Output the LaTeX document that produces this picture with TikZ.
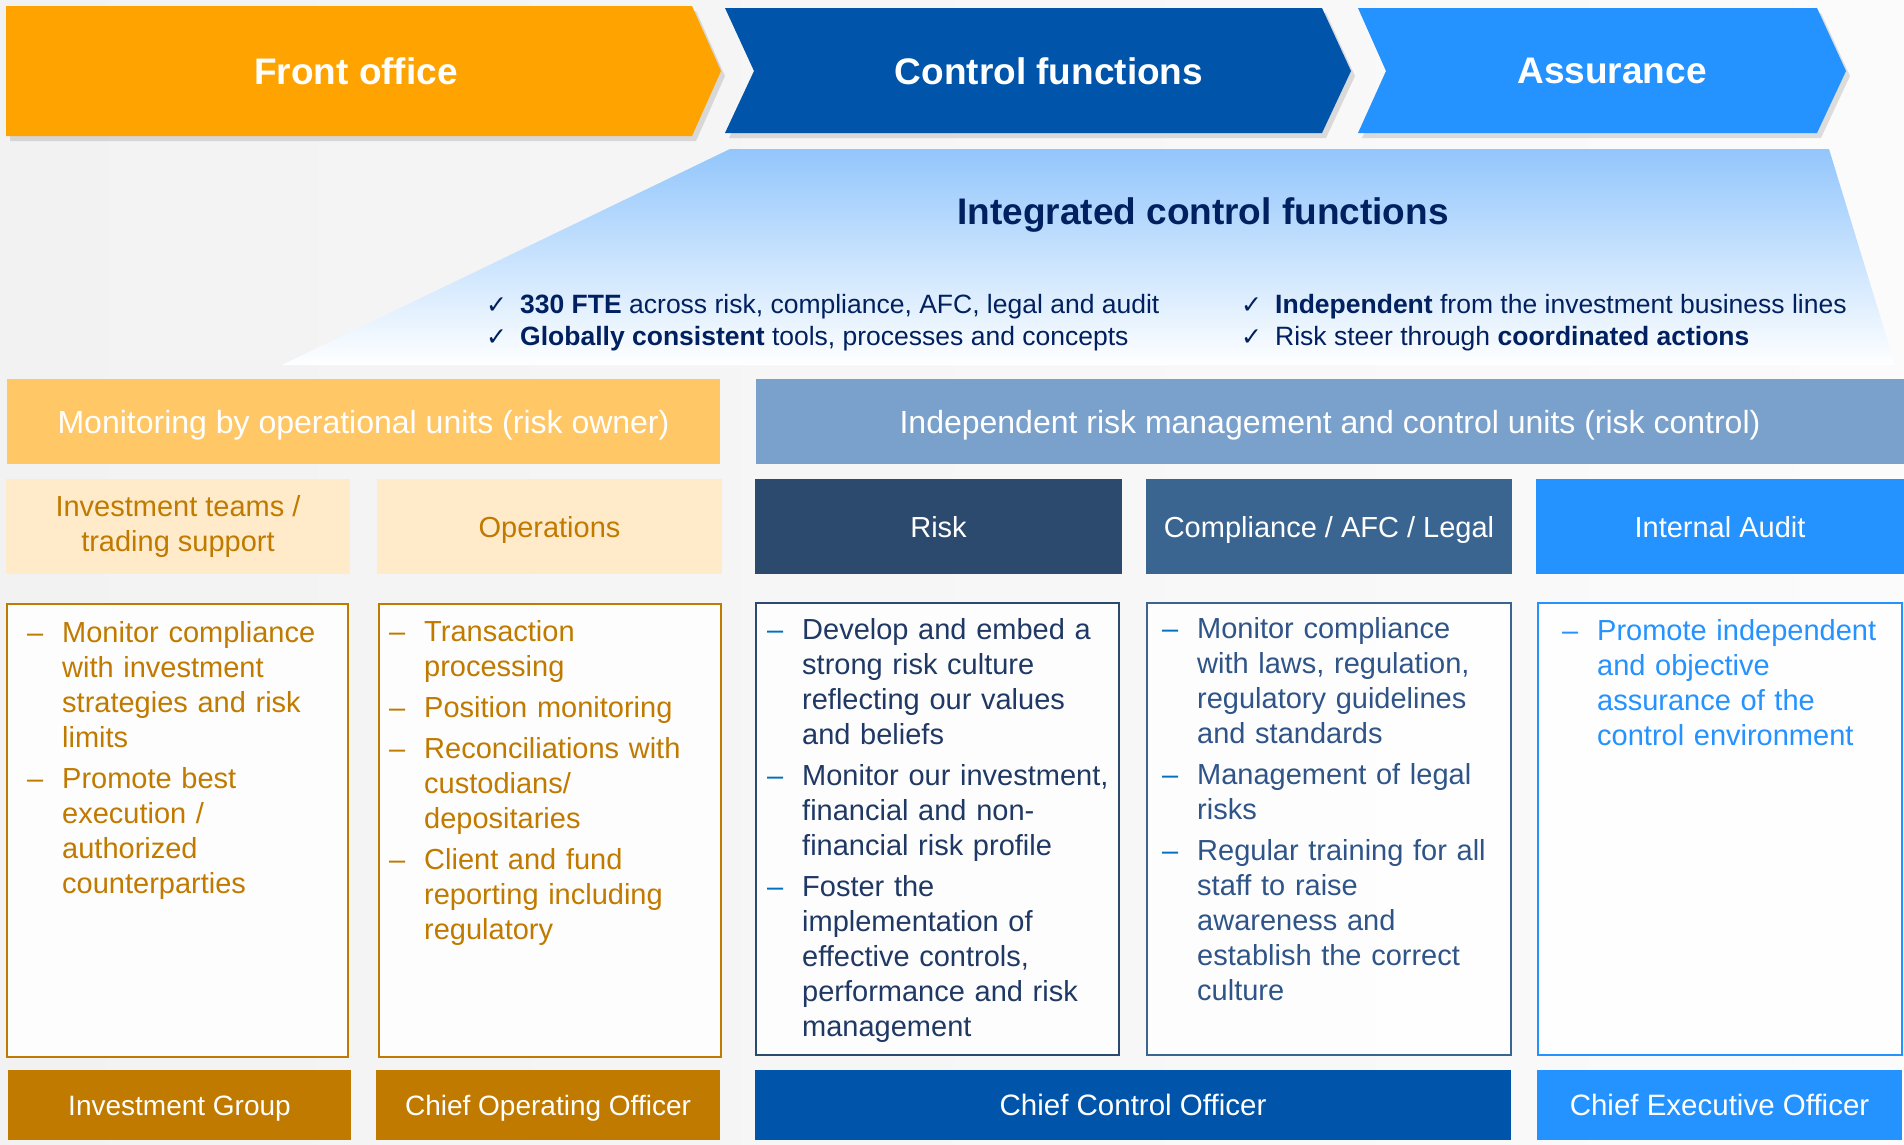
\documentclass[tikz,border=0pt]{standalone}
\usepackage{fontspec}
\setmainfont{Liberation Sans}
\newfontfamily\chkfont{DejaVu Sans}
\usetikzlibrary{shadows}
\newcommand{\itm}[2][.]{\noindent\llap{\makebox[35pt][l]{\textcolor{#1}{–}}}#2\par}
\newcommand{\chk}{\makebox[34pt][l]{\chkfont\fontsize{25}{30}\selectfont ✓}}

\begin{document}
\begin{tikzpicture}[
    x=1pt, y=-1pt,
    font=\fontsize{29}{35}\selectfont,
    chev/.style={drop shadow={shadow xshift=4pt, shadow yshift=-5pt, opacity=0.25}},
    chevtext/.style={text=white, font=\fontsize{37}{44}\selectfont\bfseries},
    cellbox/.style={rectangle, inner sep=0pt, text=white, align=center},
    band/.style={cellbox, text height=25pt, text depth=4pt},
    wide/.style={cellbox, text height=27pt, text depth=4pt, font=\fontsize{32}{38}\selectfont},
    frame/.style={rectangle, draw, line width=2.5pt, fill=white, fill opacity=0.85, inner sep=0pt},
    blist/.style={anchor=north west, inner sep=0pt, text width=380pt, align=left},
    check/.style={anchor=base west, inner sep=0pt, text=cNavy, font=\fontsize{26.5}{32}\selectfont},
    foot/.style={band, font=\fontsize{28}{34}\selectfont}
]
\definecolor{cFront}{RGB}{255,163,0}
\definecolor{cCtrl}{RGB}{0,85,170}
\definecolor{cAssur}{RGB}{36,146,255}
\definecolor{cTrap}{RGB}{146,198,252}
\definecolor{cTrapMid}{RGB}{204,228,253}
\definecolor{cNavy}{RGB}{0,32,96}
\definecolor{cMon}{RGB}{255,199,102}
\definecolor{cIrm}{RGB}{122,161,204}
\definecolor{cPeach}{RGB}{255,235,201}
\definecolor{cGold}{RGB}{192,122,0}
\definecolor{cRisk}{RGB}{44,74,110}
\definecolor{cComp}{RGB}{58,101,145}
\definecolor{cRiskTxt}{RGB}{31,56,100}
\definecolor{cCompTxt}{RGB}{47,84,135}
\definecolor{cDash}{RGB}{0,112,192}
\definecolor{cBgL}{RGB}{242,242,243}
\definecolor{cBgR}{RGB}{251,251,252}

\useasboundingbox (0,0) rectangle (1904,1144);
\shade[left color=cBgL, right color=cBgR] (0,0) rectangle (1904,1144);

\shade[top color=cTrap, middle color=cTrapMid, bottom color=white] (730,149) -- (1829,149) -- (1895,365) -- (282,365) -- cycle;

\path[chev, fill=cFront] (6,6) -- (692,6) -- (721,71) -- (692,136) -- (6,136) -- cycle;
\node[chevtext] (fo) at (356,71) {Front office};
\path[chev, fill=cCtrl] (725,8) -- (1322,8) -- (1351,71) -- (1322,133) -- (725,133) -- (754,71) -- cycle;
\node[chevtext] (cf) at (1049,71) {Control functions};
\path[chev, fill=cAssur] (1358,8) -- (1817,8) -- (1846,71) -- (1817,133) -- (1358,133) -- (1386,71) -- cycle;
\node[chevtext] (asr) at (1612,71) {Assurance};

\node[anchor=base, text=cNavy, font=\fontsize{37}{44}\selectfont\bfseries] (ict) at (1203,224) {Integrated control functions};
\node[check] (fte) at (486,313) {\chk\textbf{330 FTE} across risk, compliance, AFC, legal and audit};
\node[check] (glob) at (486,345) {\chk\textbf{Globally consistent} tools, processes and concepts};
\node[check] (indep) at (1241,313) {\chk\textbf{Independent} from the investment business lines};
\node[check] (steer) at (1241,345) {\chk Risk steer through \textbf{coordinated actions}};

\node[wide, fill=cMon, minimum width=713pt, minimum height=85pt] (mon) at (363.5,421.5) {Monitoring by operational units (risk owner)};
\node[wide, fill=cIrm, minimum width=1148pt, minimum height=85pt] (irm) at (1330,421.5) {Independent risk management and control units (risk control)};

\node[cellbox, fill=cPeach, text=cGold, minimum width=344pt, minimum height=95pt] (hinv) at (178,526.5) {Investment teams /\\ trading support};
\node[band, fill=cPeach, text=cGold, minimum width=345pt, minimum height=95pt] (hops) at (549.5,526.5) {Operations};
\node[band, fill=cRisk, minimum width=367pt, minimum height=95pt] (hrisk) at (938.5,526.5) {Risk};
\node[band, fill=cComp, minimum width=366pt, minimum height=95pt] (hcomp) at (1329,526.5) {Compliance / AFC / Legal};
\node[band, fill=cAssur, minimum width=368pt, minimum height=95pt] (haud) at (1720,526.5) {Internal Audit};

\node[frame, draw=cGold, minimum width=341pt, minimum height=453pt] (binv) at (177.5,830.5) {};
\node[frame, draw=cGold, minimum width=342pt, minimum height=453pt] (bops) at (550,830.5) {};
\node[frame, draw=cRisk, minimum width=363pt, minimum height=452pt] (brisk) at (937.5,829) {};
\node[frame, draw=cComp, minimum width=364pt, minimum height=452pt] (bcomp) at (1329,829) {};
\node[frame, draw=cAssur, minimum width=364pt, minimum height=452pt] (baud) at (1720,829) {};

\node[blist, text=cGold] (linv) at (27,621) {\leftskip=35pt \parskip=6pt
  \itm{Monitor compliance\\ with investment\\ strategies and risk\\ limits}
  \itm{Promote best\\ execution /\\ authorized\\ counterparties}};
\node[blist, text=cGold] (lops) at (389,620) {\leftskip=35pt \parskip=6pt
  \itm{Transaction\\ processing}
  \itm{Position monitoring}
  \itm{Reconciliations with\\ custodians/\\ depositaries}
  \itm{Client and fund\\ reporting including\\ regulatory}};
\node[blist, text=cRiskTxt] (lrisk) at (767,618) {\leftskip=35pt \parskip=6pt
  \itm[cDash]{Develop and embed a\\ strong risk culture\\ reflecting our values\\ and beliefs}
  \itm[cDash]{Monitor our investment,\\ financial and non-\\ financial risk profile}
  \itm[cDash]{Foster the\\ implementation of\\ effective controls,\\ performance and risk\\ management}};
\node[blist, text=cCompTxt] (lcomp) at (1162,617) {\leftskip=35pt \parskip=6pt
  \itm[cDash]{Monitor compliance\\ with laws, regulation,\\ regulatory guidelines\\ and standards}
  \itm[cDash]{Management of legal\\ risks}
  \itm[cDash]{Regular training for all\\ staff to raise\\ awareness and\\ establish the correct\\ culture}};
\node[blist, text=cAssur] (laud) at (1562,619) {\leftskip=35pt \parskip=6pt
  \itm{Promote independent\\ and objective\\ assurance of the\\ control environment}};

\node[foot, fill=cGold, minimum width=343pt, minimum height=70pt] (invgrp) at (179.5,1105) {Investment Group};
\node[foot, fill=cGold, minimum width=344pt, minimum height=70pt] (coo) at (548,1105) {Chief Operating Officer};
\node[foot, fill=cCtrl, minimum width=756pt, minimum height=70pt, font=\fontsize{29.5}{35}\selectfont] (cco) at (1133,1105) {Chief Control Officer};
\node[foot, fill=cAssur, minimum width=365pt, minimum height=70pt, font=\fontsize{29.5}{35}\selectfont] (ceo) at (1719.5,1105) {Chief Executive Officer};
\end{tikzpicture}
\end{document}
